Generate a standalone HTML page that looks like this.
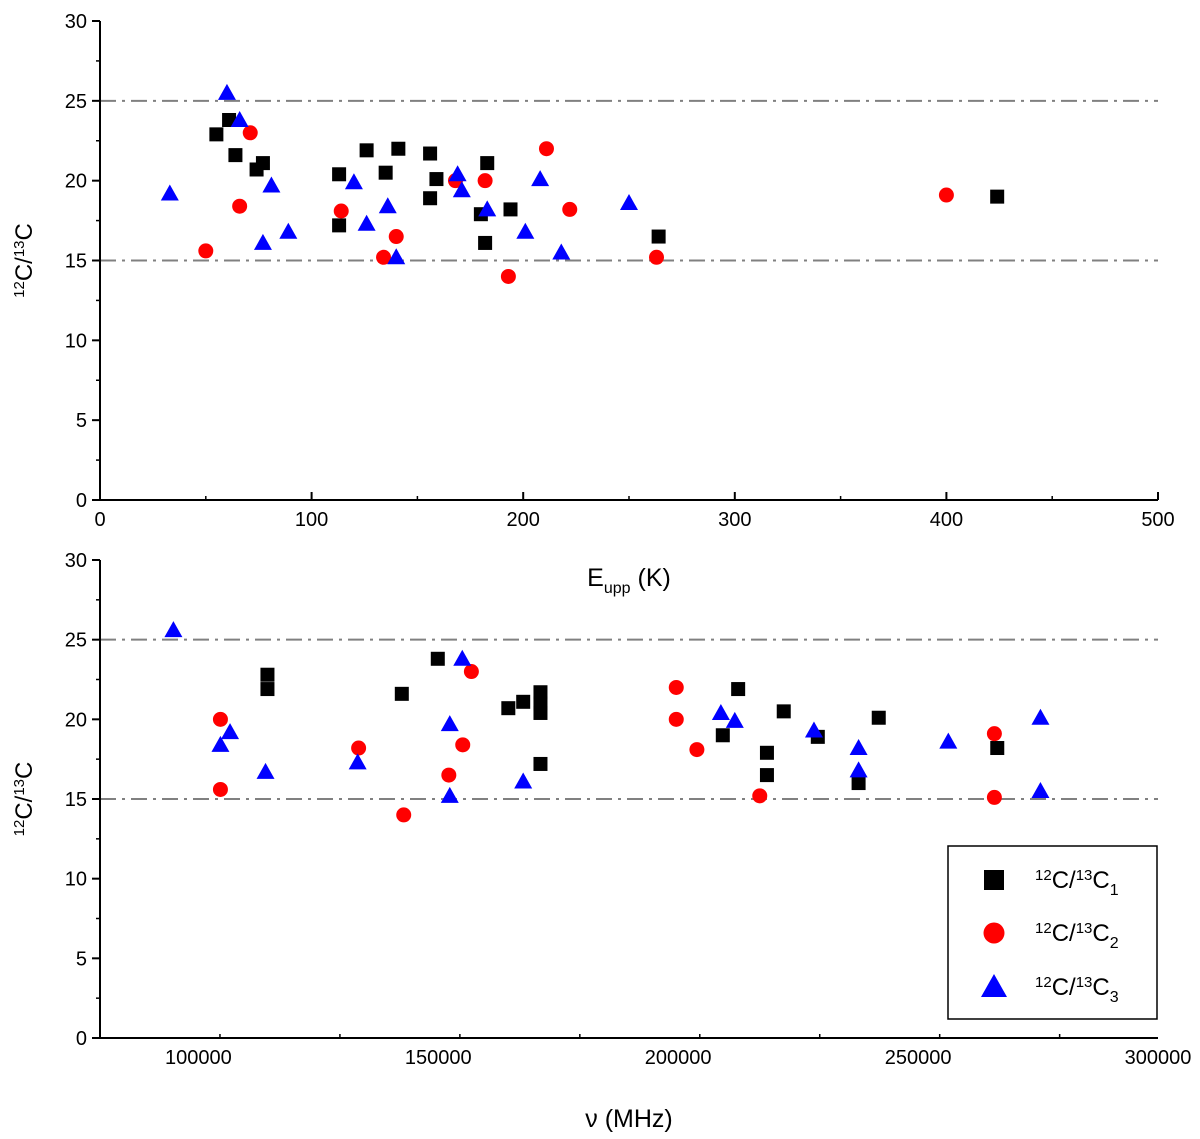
<!DOCTYPE html>
<html><head><meta charset="utf-8"><style>
body{margin:0;background:#fff}
svg{display:block;font-family:"Liberation Sans",Arial,sans-serif}
</style></head><body>
<svg id="chart" width="1200" height="1139" viewBox="0 0 1200 1139" xmlns="http://www.w3.org/2000/svg"></svg>
<script>
// Top panel data (x = E_upp in K, y = ratio)
const topSq_x=[55,61,64,74,77,113,113,126,135,141,156,156,159,180,182,183,194,264,424];
const topSq_y=[22.9,23.8,21.6,20.7,21.1,20.4,17.2,21.9,20.5,22,21.7,18.9,20.1,17.9,16.1,21.1,18.2,16.5,19];
const topCi_x=[50,66,71,114,134,140,168,182,193,211,222,263,400];
const topCi_y=[15.6,18.4,23,18.1,15.2,16.5,20,20,14,22,18.2,15.2,19.1];
const topTr_x=[33,60,66,81,77,89,120,126,136,140,169,171,183,201,208,218,250];
const topTr_y=[19.2,25.5,23.8,19.7,16.1,16.8,19.9,17.3,18.4,15.2,20.4,19.4,18.2,16.8,20.1,15.5,18.6];
// Bottom panel data (x = frequency MHz)
const botSq_x=[114400,114400,142400,149900,164600,167700,171300,171300,171300,171300,209300,212500,218500,218500,222000,229100,237600,241800,266500];
const botSq_y=[22.8,21.9,21.6,23.8,20.7,21.1,21.7,21.0,20.4,17.2,19.0,21.9,17.9,16.5,20.5,18.9,16.0,20.1,18.2];
const botCi_x=[104600,104600,133400,142800,152200,155100,156900,199600,199600,203900,217000,265900,265900];
const botCi_y=[20.0,15.6,18.2,14.0,16.5,18.4,23.0,22.0,20.0,18.1,15.2,19.1,15.1];
const botTr_x=[94800,104600,106600,114000,133200,152400,152400,155000,167700,208900,211800,228300,237600,237600,256300,275500,275500];
const botTr_y=[25.6,18.4,19.2,16.7,17.3,19.7,15.2,23.8,16.1,20.4,19.9,19.3,18.2,16.8,18.6,20.1,15.5];
const topXTicks=[0,100,200,300,400,500];
const botXTicks=[100000,150000,200000,250000,300000];
const yTicks=[0,5,10,15,20,25,30];
const refLines=[15,25];

const svg=document.getElementById('chart');
const NS='http://www.w3.org/2000/svg';
function mk(tag,attrs,parent){const e=document.createElementNS(NS,tag);for(const k in attrs)e.setAttribute(k,attrs[k]);(parent||svg).appendChild(e);return e;}

function panel(name,x0,x1,y0px,y30px,xmin,xmax,xticks,minorStep,sx,sy,cx,cy,tx,ty,xlabelFn,xlabelY){
  const g=mk('g',{});
  
  
  const X=v=>x0+(v-xmin)/(xmax-xmin)*(x1-x0);
  const Y=v=>y0px-(v/30)*(y0px-y30px);
  refLines.forEach(r=>{const l=mk('line',{x1:x0,x2:x1,y1:Y(r),y2:Y(r),stroke:'#808080','stroke-width':2,'stroke-dasharray':'16,6,3,6'},g);
    
    });
  const ax=mk('path',{d:`M${x0},${y30px} V${y0px} H${x1}`,stroke:'#000','stroke-width':2,fill:'none'},g);
  
  
  yTicks.forEach(t=>{mk('line',{x1:x0-8,x2:x0,y1:Y(t),y2:Y(t),stroke:'#000','stroke-width':2},g);
    if(t<30)mk('line',{x1:x0-4,x2:x0,y1:Y(t+2.5),y2:Y(t+2.5),stroke:'#000','stroke-width':1.5},g);
    const tt=mk('text',{x:x0-13,y:Y(t)+7,'text-anchor':'end','font-size':20},g);tt.textContent=t;
    
    });
  for(let v=xmin;v<=xmax+1e-6;v+=minorStep){const major=xticks.some(t=>Math.abs(t-v)<1e-6);
    mk('line',{x1:X(v),x2:X(v),y1:y0px,y2:y0px-(major?8:4),stroke:'#000','stroke-width':major?2:1.5},g);}
  xticks.forEach(t=>{const tt=mk('text',{x:X(t),y:y0px+26,'text-anchor':'middle','font-size':20},g);tt.textContent=t;
    
    });
  sx.forEach((v,i)=>{const r=mk('rect',{x:X(v)-7,y:Y(sy[i])-7,width:14,height:14,fill:'#000'},g);
    
    });
  cx.forEach((v,i)=>{const c=mk('circle',{cx:X(v),cy:Y(cy[i]),r:7.5,fill:'#f00'},g);
    
    });
  tx.forEach((v,i)=>{const px=X(v),py=Y(ty[i]);const p=mk('polygon',{points:`${px},${py-9} ${px-9},${py+7} ${px+9},${py+7}`,fill:'#00f'},g);
    
    });
  const yt=mk('text',{transform:`translate(${x0-68},${(y0px+y30px)/2}) rotate(-90)`,'text-anchor':'middle','font-size':24},g);
  yt.innerHTML='<tspan font-size="15" dy="-8">12</tspan><tspan dy="8">C/</tspan><tspan font-size="15" dy="-8">13</tspan><tspan dy="8">C</tspan>';
  
  
  const xt=mk('text',{x:(x0+x1)/2,y:xlabelY,'text-anchor':'middle','font-size':25},g);
  xt.innerHTML=xlabelFn;
  
  
}
panel('top-panel',100,1158,500,21,0,500,topXTicks,50,topSq_x,topSq_y,topCi_x,topCi_y,topTr_x,topTr_y,'E<tspan font-size="16" dy="7">upp</tspan><tspan dy="-7"> (K)</tspan>',586);
panel('bottom-panel',100,1158,1038,560,79500,300000,botXTicks,25000,botSq_x,botSq_y,botCi_x,botCi_y,botTr_x,botTr_y,'ν (MHz)',1127);

const lg=mk('g',{});


mk('rect',{x:948,y:846,width:209,height:173,fill:'#fff',stroke:'#000','stroke-width':1.5},lg);
const rows=[880,933,987];
mk('rect',{x:984,y:rows[0]-10,width:20,height:20,fill:'#000'},lg);
mk('circle',{cx:994,cy:rows[1],r:10.5,fill:'#f00'},lg);
mk('polygon',{points:`994,${rows[2]-13} 981,${rows[2]+10} 1007,${rows[2]+10}`,fill:'#00f'},lg);
rows.forEach((y,i)=>{const t=mk('text',{x:1035,y:y+8,'font-size':24},lg);
  t.innerHTML=`<tspan font-size="15" dy="-8">12</tspan><tspan dy="8">C/</tspan><tspan font-size="15" dy="-8">13</tspan><tspan dy="8">C</tspan><tspan font-size="16" dy="7">${i+1}</tspan>`;
  
  });
</script>
</body></html>
